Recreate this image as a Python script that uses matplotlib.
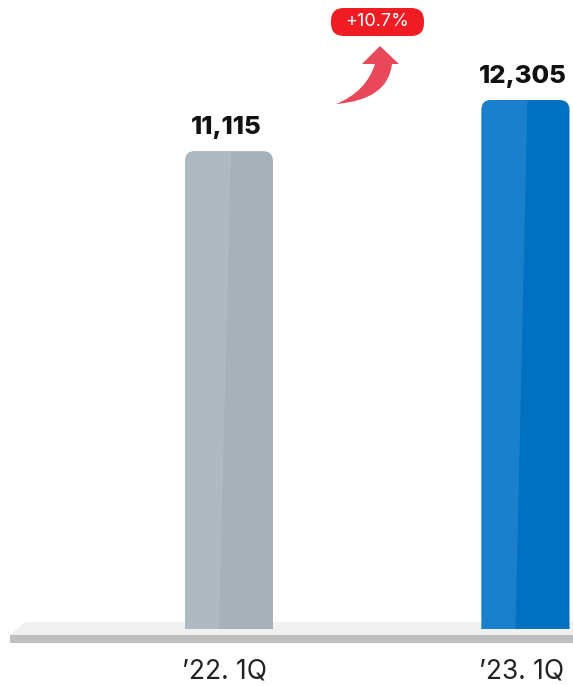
import matplotlib.pyplot as plt
from matplotlib.patches import FancyBboxPatch, Rectangle, Polygon, PathPatch
from matplotlib.path import Path
from matplotlib.transforms import Affine2D, blended_transform_factory

categories = ["\u201922. 1Q", "\u201923. 1Q"]
values = [11115, 12305]
value_labels = ["11,115", "12,305"]
growth_label = "+10.7%"

bar_colors = ["#a6b1ba", "#0070c0"]
shine_colors = ["#afb9c1", "#1a80cc"]

W, H = 573, 686
fig = plt.figure(figsize=(W / 100, H / 100), dpi=100)
ax = fig.add_axes([0, 0, 1, 1])
ax.set_axis_off()

# pixel helper for decoration (origin top-left)
pix = Affine2D().scale(1 / W, -1 / H).translate(0, 1) + fig.transFigure

# scales: baseline at y=629px, 12305 -> 529px tall; bar centres at 229 / 525.5 px
ypp = values[1] / 529.0
xpp = 1 / 296.5
ax.set_ylim(-(H - 629) * ypp, 629 * ypp)
ax.set_xlim(-229 * xpp, 1 + (W - 525.5) * xpp)

# platform
ax.add_patch(Polygon([(10, 635), (25, 622), (W, 622), (W, 635)], closed=True,
                     facecolor="#f0f0f0", edgecolor="none", transform=pix, zorder=1))
ax.add_patch(Rectangle((10, 635), W - 10, 8, facecolor="#bfbfbf", edgecolor="none",
                       transform=pix, zorder=1))


def top_rounded(x0, w, h, rx, ry):
    verts = [(x0, 0), (x0, h - ry), (x0, h), (x0 + rx, h),
             (x0 + w - rx, h), (x0 + w, h), (x0 + w, h - ry),
             (x0 + w, 0), (x0, 0)]
    codes = [Path.MOVETO, Path.LINETO, Path.CURVE3, Path.CURVE3,
             Path.LINETO, Path.CURVE3, Path.CURVE3,
             Path.LINETO, Path.CLOSEPOLY]
    return Path(verts, codes)


bw = 88 * xpp
for i, v in enumerate(values):
    x0 = i - bw / 2
    bar = PathPatch(top_rounded(x0, bw, v, 10 * xpp, 10 * ypp),
                    facecolor=bar_colors[i], edgecolor="none", zorder=3)
    ax.add_patch(bar)
    shine = Polygon([(x0, 0), (x0 + 34 * xpp, 0), (x0 + 46 * xpp, v), (x0, v)],
                    closed=True, facecolor=shine_colors[i], edgecolor="none", zorder=4)
    ax.add_patch(shine)
    shine.set_clip_path(bar)
    ax.annotate(value_labels[i], (i, v), xytext=(-2, 17), textcoords="offset points",
                ha="center", va="center", fontsize=18.5, fontweight="heavy",
                family="Inter", color="#111111", zorder=5)

lab_tr = blended_transform_factory(ax.transData, pix)
for i, c in enumerate(categories):
    ax.text(i - 4 * xpp, 672, c, transform=lab_tr, ha="center", va="center",
            fontsize=19, family="Inter", color="#222222")

# growth badge
ax.add_patch(FancyBboxPatch((331, 8), 93, 28, boxstyle="round,pad=0,rounding_size=13",
                            facecolor="#f01c24", edgecolor="none", transform=pix, zorder=5))
ax.text(377, 22, growth_label, transform=pix, ha="center", va="center",
        fontsize=13, family="Inter", color="white", zorder=6)

# curved arrow
verts = [(336, 104),
         (388, 100), (392, 64),
         (399, 64), (380, 46), (362, 64),
         (375, 64),
         (366, 92), (336, 104)]
codes = [Path.MOVETO,
         Path.CURVE3, Path.CURVE3,
         Path.LINETO, Path.LINETO, Path.LINETO,
         Path.LINETO,
         Path.CURVE3, Path.CURVE3]
ax.add_patch(PathPatch(Path(verts, codes), facecolor="#e8485a", edgecolor="none",
                       transform=pix, zorder=5))

fig.savefig("out.png", dpi=100)
